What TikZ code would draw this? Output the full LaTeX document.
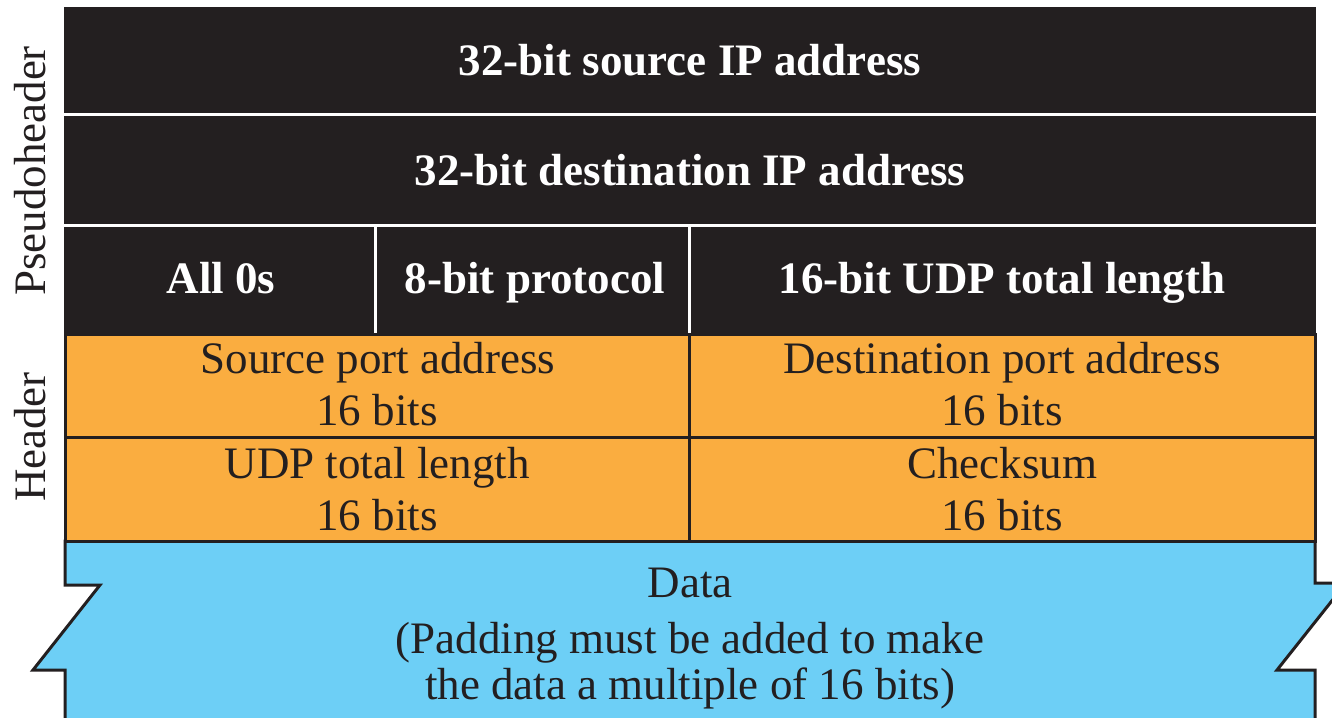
\documentclass[tikz,border=0pt]{standalone}
\usepackage{fontspec}
\setmainfont{Liberation Serif}
\definecolor{phblack}{HTML}{231F20}
\definecolor{hdrorange}{HTML}{FAAD40}
\definecolor{datablue}{HTML}{6DCFF6}
\begin{document}
\begin{tikzpicture}[x=1pt,y=-1pt,
  wtxt/.style={text=white,font=\fontsize{45}{52}\selectfont\bfseries,inner sep=0pt,anchor=base},
  btxt/.style={text=phblack,font=\fontsize{45}{52}\selectfont,inner sep=0pt,anchor=base},
  side/.style={text=phblack,font=\fontsize{45}{52}\selectfont,inner sep=0pt,anchor=base,rotate=90},
  sepw/.style={white,line width=3pt},
  sepb/.style={phblack,line width=3pt}]
\useasboundingbox (0,0) rectangle (1332,717);
\clip (0,0) rectangle (1332,717);

% pseudoheader (black)
\fill[phblack] (64,7) rectangle (1316,334);
\draw[sepw] (64,114.5) -- (1316,114.5);
\draw[sepw] (64,225) -- (1316,225);
\draw[sepw] (375,225) -- (375,333);
\draw[sepw] (689,225) -- (689,333);

% data (blue) with torn edges
\filldraw[fill=datablue,draw=phblack,line width=3pt,line join=miter]
  (65,541) -- (1315,541) -- (1315,583) -- (1346,583) -- (1277,670) -- (1315,670)
  -- (1315,740) -- (65,740) -- (65,670) -- (33,670) -- (100,585) -- (65,585) -- cycle;

% header (orange)
\filldraw[fill=hdrorange,draw=phblack,line width=3pt] (65,334) rectangle (1315,541);
\draw[sepb] (65,437) -- (1315,437);
\draw[sepb] (689,334) -- (689,541);

% side labels
\node[side] (pseudo) at (45,171) {Pseudoheader};
\node[side] (hdr) at (45,437) {Header};

% pseudoheader texts
\node[wtxt] (srcip) at (690,75) {32-bit source IP address};
\node[wtxt] (dstip) at (690,185) {32-bit destination IP address};
\node[wtxt] (zeros) at (221,293) {All 0s};
\node[wtxt] (proto) at (535,293) {8-bit protocol};
\node[wtxt] (udplen) at (1002,293) {16-bit UDP total length};

% header texts
\node[btxt] (sp1) at (378,373) {Source port address};
\node[btxt] (sp2) at (377,425) {16 bits};
\node[btxt] (dp1) at (1002,373) {Destination port address};
\node[btxt] (dp2) at (1002,425) {16 bits};
\node[btxt] (tl1) at (377,478) {UDP total length};
\node[btxt] (tl2) at (377,530) {16 bits};
\node[btxt] (ck1) at (1002,478) {Checksum};
\node[btxt] (ck2) at (1002,530) {16 bits};

% data texts
\node[btxt] (data1) at (690,597) {Data};
\node[btxt] (data2) at (690,653) {(Padding must be added to make};
\node[btxt] (data3) at (690,699) {the data a multiple of 16 bits)};
\end{tikzpicture}
\end{document}
